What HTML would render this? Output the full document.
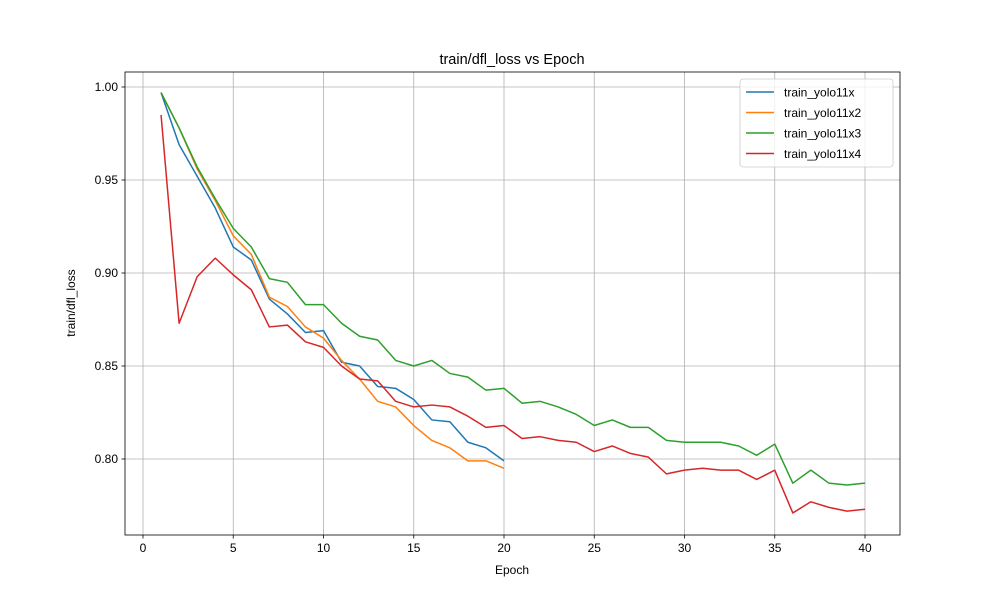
<!DOCTYPE html>
<html><head><meta charset="utf-8"><style>body{margin:0;background:#fff}svg text{font-family:"Liberation Sans","DejaVu Sans",sans-serif}</style></head>
<body>
<svg id="chart" width="1000" height="600" xmlns="http://www.w3.org/2000/svg"></svg>
<script>
const epochs = Array.from({length:40},(_,i)=>i+1);
const seriesNames = ["train_yolo11x","train_yolo11x2","train_yolo11x3","train_yolo11x4"];
const yolo11x = [0.997,0.969,0.952,0.935,0.914,0.907,0.886,0.878,0.868,0.869,0.852,0.850,0.839,0.838,0.832,0.821,0.820,0.809,0.806,0.799];
const yolo11x2 = [0.997,0.978,0.956,0.939,0.920,0.910,0.887,0.882,0.871,0.865,0.853,0.843,0.831,0.828,0.818,0.810,0.806,0.799,0.799,0.795];
const yolo11x3 = [0.997,0.978,0.957,0.940,0.924,0.914,0.897,0.895,0.883,0.883,0.873,0.866,0.864,0.853,0.850,0.853,0.846,0.844,0.837,0.838,0.830,0.831,0.828,0.824,0.818,0.821,0.817,0.817,0.810,0.809,0.809,0.809,0.807,0.802,0.808,0.787,0.794,0.787,0.786,0.787];
const yolo11x4 = [0.985,0.873,0.898,0.908,0.899,0.891,0.871,0.872,0.863,0.860,0.850,0.843,0.842,0.831,0.828,0.829,0.828,0.823,0.817,0.818,0.811,0.812,0.810,0.809,0.804,0.807,0.803,0.801,0.792,0.794,0.795,0.794,0.794,0.789,0.794,0.771,0.777,0.774,0.772,0.773];
const xTicks = [0,5,10,15,20,25,30,35,40];
const yTicks = [0.80,0.85,0.90,0.95,1.00];
const colors = ["#1f77b4","#ff7f0e","#2ca02c","#d62728"];
const allSeries = [yolo11x,yolo11x2,yolo11x3,yolo11x4];

const L=125,R=900,T=72,B=535;
const X = v => 143 + (v-0)*(865-143)/40;
const Y = v => 87 + (1.0-v)*1860;
const svg = document.getElementById('chart');
const NS='http://www.w3.org/2000/svg';
function mk(tag, attrs, parent){const e=document.createElementNS(NS,tag);for(const k in attrs)e.setAttribute(k,attrs[k]);(parent||svg).appendChild(e);return e;}

let e;
e=mk('rect',{x:L,y:T,width:R-L,height:B-T,fill:'#fff'});



xTicks.forEach(t=>{
  const x=X(t);
  e=mk('line',{x1:x,x2:x,y1:T,y2:B,stroke:'#b0b0b0','stroke-width':0.8});
  
  
  mk('line',{x1:x,x2:x,y1:B,y2:B+3.5,stroke:'#000','stroke-width':0.8});
  e=mk('text',{x:x,y:B+17,'text-anchor':'middle','font-size':12});
  e.textContent=t;
  
  
});
yTicks.forEach(t=>{
  const y=Y(t);
  e=mk('line',{x1:L,x2:R,y1:y,y2:y,stroke:'#b0b0b0','stroke-width':0.8});
  
  
  mk('line',{x1:L-3.5,x2:L,y1:y,y2:y,stroke:'#000','stroke-width':0.8});
  e=mk('text',{x:L-7,y:y+4,'text-anchor':'end','font-size':12});
  e.textContent=t.toFixed(2);
  
  
});

allSeries.forEach((s,i)=>{
  const pts=s.map((v,j)=>X(epochs[j]).toFixed(2)+','+Y(v).toFixed(2)).join(' ');
  e=mk('polyline',{points:pts,fill:'none',stroke:colors[i],'stroke-width':1.5,'stroke-linejoin':'round'});
  
  
});

e=mk('rect',{x:L,y:T,width:R-L,height:B-T,fill:'none',stroke:'#000','stroke-width':0.8});



e=mk('text',{x:512,y:64,'text-anchor':'middle','font-size':14.5});
e.textContent='train/dfl_loss vs Epoch';


e=mk('text',{x:512,y:574,'text-anchor':'middle','font-size':12});
e.textContent='Epoch';


e=mk('text',{x:75,y:303,'text-anchor':'middle','font-size':12,transform:'rotate(-90 75 303)'});
e.textContent='train/dfl_loss';



const lg=mk('g',{});


mk('rect',{x:740,y:79,width:153,height:88,rx:3,fill:'#fff','fill-opacity':0.8,stroke:'#ccc','stroke-width':0.8},lg);
seriesNames.forEach((n,i)=>{
  const y=92+i*20.5;
  const g=mk('g',{},lg);
  
  
  mk('line',{x1:746,x2:774,y1:y,y2:y,stroke:colors[i],'stroke-width':1.5},g);
  const t=mk('text',{x:784,y:y+4.5,'font-size':12},g);
  t.textContent=n;
});
</script>
</body></html>
